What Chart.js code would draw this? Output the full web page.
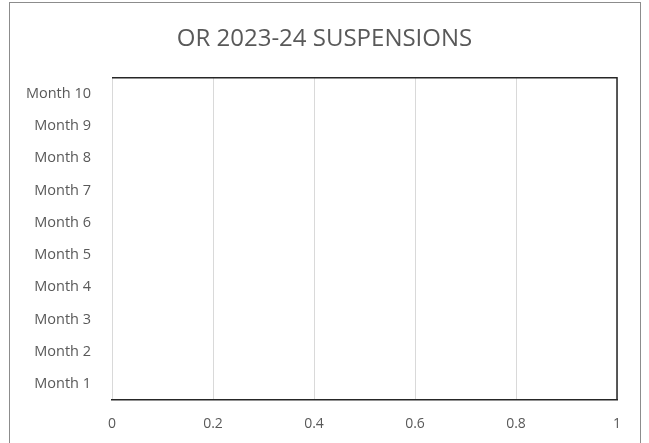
<!DOCTYPE html>
<html>
<head>
<meta charset="utf-8">
<script src="https://cdn.jsdelivr.net/npm/chart.js@4"></script>
<style>
  html, body { margin: 0; padding: 0; background: #fff; }
  #wrap { position: relative; width: 649px; height: 443px; overflow: hidden; }
  #frame { position: absolute; left: 9px; top: 2px; width: 630px; height: 470px; border: 1px solid #8c8c8c; pointer-events: none; }
</style>
</head>
<body>
<div id="wrap">
  <canvas id="barChart" width="649" height="443"></canvas>
  <div id="frame"></div>
</div>
<script>
// chart data (no values recorded for any month)
var months = ["Month 1", "Month 2", "Month 3", "Month 4", "Month 5",
              "Month 6", "Month 7", "Month 8", "Month 9", "Month 10"];
var suspensions = [null, null, null, null, null, null, null, null, null, null];
var xTickLabels = ["0", "0.2", "0.4", "0.6", "0.8", "1"];
var xMin = 0;
var xMax = 1;
var xStep = 0.2;

document.addEventListener("DOMContentLoaded", function () {
  var textColor = "#595959";
  var fontFamily = "'Open Sans', Lato, sans-serif";

  // top + right edges of the plot box
  var plotFrame = {
    id: "plotFrame",
    afterLayout: function (chart) {
      // centre the title on the whole picture, not the padded area
      var t = chart.titleBlock;
      if (t) {
        t.left = 0;
        t.right = chart.width;
        t.width = chart.width;
      }
    },
    afterDraw: function (chart) {
      var a = chart.chartArea;
      var c = chart.ctx;
      c.save();
      c.strokeStyle = "#262626";
      c.lineWidth = 1.5;
      c.beginPath();
      c.moveTo(a.left, a.top);
      c.lineTo(a.right, a.top);
      c.lineTo(a.right, a.bottom);
      c.stroke();
      c.restore();
    }
  };

  var ctx = document.getElementById("barChart").getContext("2d");
  var barChart = new Chart(ctx, {
    type: "bar",
    data: {
      labels: months,
      datasets: [
        {
          label: "Suspensions",
          data: suspensions,
          backgroundColor: "#4472c4",
          borderWidth: 0,
        },
      ],
    },
    options: {
      indexAxis: "y",
      responsive: false,
      animation: false,
      layout: { padding: { left: 8, right: 32, top: 0, bottom: 0 } },
      plugins: {
        legend: { display: false },
        tooltip: { enabled: false },
        title: {
          display: true,
          text: "OR 2023-24 SUSPENSIONS",
          color: textColor,
          font: { family: fontFamily, size: 24, weight: "normal" },
          padding: { top: 25, bottom: 24 },
        },
      },
      scales: {
        x: {
          min: xMin,
          max: xMax,
          ticks: {
            stepSize: xStep,
            color: textColor,
            font: { family: fontFamily, size: 14 },
            padding: 16,
            callback: function (value, index) { return xTickLabels[index]; },
          },
          grid: { color: "#d9d9d9", lineWidth: 1, drawTicks: false },
          border: { display: true, color: "#262626", width: 1.5 },
          afterFit: function (scale) { scale.height = 43; },
        },
        y: {
          reverse: true,
          ticks: {
            color: textColor,
            font: { family: fontFamily, size: 14.5 },
            padding: 21,
          },
          grid: { display: false, drawTicks: false },
          border: { display: false },
          afterFit: function (scale) { scale.width = 104; },
        },
      },
    },
    plugins: [plotFrame],
  });
});
</script>
</body>
</html>
